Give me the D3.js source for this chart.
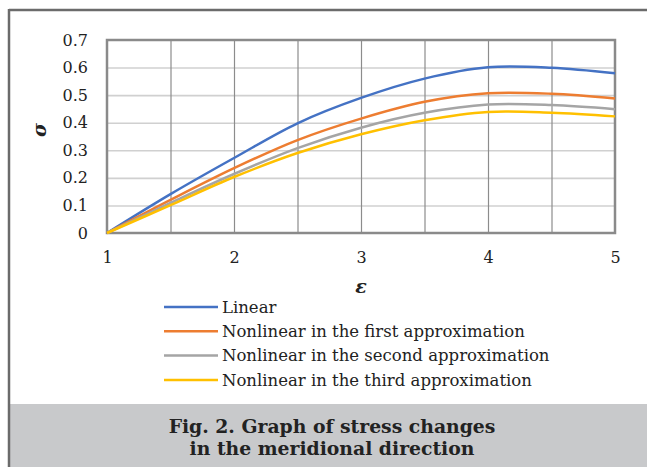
<!DOCTYPE html>
<html>
<head>
<meta charset="utf-8">
<script src="https://cdn.jsdelivr.net/npm/d3@7"></script>
<style>
  body { margin: 0; background: #fff; }
  text { font-family: "DejaVu Serif", serif; fill: #222; }
</style>
</head>
<body>
<div id="container"></div>
<script>
// values
const eps = [1, 1.5, 2, 2.5, 3, 3.5, 4, 4.5, 5];
const linear = [0, 0.141, 0.272, 0.398, 0.49, 0.56, 0.601, 0.599, 0.579];
const firstApprox = [0, 0.12, 0.235, 0.337, 0.415, 0.476, 0.507, 0.505, 0.488];
const secondApprox = [0, 0.109, 0.214, 0.308, 0.382, 0.436, 0.466, 0.464, 0.449];
const thirdApprox = [0, 0.101, 0.203, 0.29, 0.358, 0.409, 0.439, 0.436, 0.423];

const seriesNames = [
  "Linear",
  "Nonlinear in the first approximation",
  "Nonlinear in the second approximation",
  "Nonlinear in the third approximation"
];
const seriesColors = ["#4472c4", "#ed7d31", "#a5a5a5", "#ffc000"];
const xTicks = [1, 2, 3, 4, 5];
const xGrid = [1.5, 2, 2.5, 3, 3.5, 4, 4.5];
const yTicks = [0, 0.1, 0.2, 0.3, 0.4, 0.5, 0.6, 0.7];
const yTickLabels = ["0", "0.1", "0.2", "0.3", "0.4", "0.5", "0.6", "0.7"];
const captionLines = ["Fig. 2. Graph of stress changes", "in the meridional direction"];

const W = 647, H = 467;
const plot = { left: 107, right: 615, top: 40, bottom: 233 };

const svg = d3.select("#container")
  .append("svg")
  .attr("width", W)
  .attr("height", H);

//frame and caption band
svg.append("rect")
  .attr("x", 10).attr("y", 404)
  .attr("width", W - 10).attr("height", H - 404)
  .attr("fill", "#c8c9cb");
svg.append("line")
  .attr("x1", 9).attr("x2", W).attr("y1", 10).attr("y2", 10)
  .attr("stroke", "#6b6b6b").attr("stroke-width", 2.5);
svg.append("line")
  .attr("x1", 9).attr("x2", 9).attr("y1", 9).attr("y2", H)
  .attr("stroke", "#6b6b6b").attr("stroke-width", 2.5);

//scales
const x = d3.scaleLinear().domain([1, 5]).range([plot.left, plot.right]);
const y = d3.scaleLinear().domain([0, 0.7]).range([plot.bottom, plot.top]);

//grid
svg.append("g")
  .attr("transform", `translate(${plot.left},0)`)
  .call(d3.axisLeft(y).tickValues(yTicks.slice(1, -1)).tickSize(-(plot.right - plot.left)).tickFormat(""))
  .call(g => g.select(".domain").remove())
  .call(g => g.selectAll("line").attr("stroke", "#d0d0d0").attr("stroke-width", 1.6));

svg.append("g")
  .attr("transform", `translate(0,${plot.bottom})`)
  .call(d3.axisBottom(x).tickValues(xGrid).tickSize(-(plot.bottom - plot.top)).tickFormat(""))
  .call(g => g.select(".domain").remove())
  .call(g => g.selectAll("line").attr("stroke", "#8c8c8c").attr("stroke-width", 1.2));

//plot border
svg.append("rect")
  .attr("x", plot.left).attr("y", plot.top)
  .attr("width", plot.right - plot.left).attr("height", plot.bottom - plot.top)
  .attr("fill", "none").attr("stroke", "#8a8a8a").attr("stroke-width", 2.5);

//axis labels
const yAxis = svg.append("g")
  .attr("transform", `translate(88,0)`)
  .call(d3.axisLeft(y).tickValues(yTicks).tickSize(0).tickPadding(0)
    .tickFormat((d, i) => yTickLabels[i]));
yAxis.select(".domain").remove();
yAxis.selectAll("text")
  .attr("font-family", "DejaVu Serif, serif")
  .attr("font-size", 16)
  .attr("fill", "#222");

const xAxis = svg.append("g")
  .attr("transform", `translate(0,252)`)
  .call(d3.axisBottom(x).tickValues(xTicks).tickSize(0).tickPadding(0).tickFormat(d3.format("d")));
xAxis.select(".domain").remove();
xAxis.selectAll("text")
  .attr("font-family", "DejaVu Serif, serif")
  .attr("font-size", 16)
  .attr("fill", "#222");

svg.append("text")
  .attr("x", (plot.left + plot.right) / 2).attr("y", 293)
  .attr("text-anchor", "middle")
  .attr("font-size", 19).attr("font-weight", "bold").attr("font-style", "italic")
  .text("ε");

svg.append("text")
  .attr("transform", "translate(46,130) rotate(-90)")
  .attr("text-anchor", "middle")
  .attr("font-size", 19).attr("font-weight", "bold").attr("font-style", "italic")
  .text("σ");

//lines
const allSeries = [linear, firstApprox, secondApprox, thirdApprox];
const line = d3.line()
  .x((d, i) => x(eps[i]))
  .y(d => y(d))
  .curve(d3.curveCatmullRom.alpha(0.5));

svg.selectAll("path.series")
  .data(allSeries)
  .enter()
  .append("path")
  .attr("class", "series")
  .attr("d", line)
  .attr("fill", "none")
  .attr("stroke", (d, i) => seriesColors[i])
  .attr("stroke-width", 2.5);

//legend
const legend = svg.selectAll("g.legend")
  .data(seriesNames)
  .enter()
  .append("g")
  .attr("class", "legend")
  .attr("transform", (d, i) => `translate(164,${307 + i * 24.3})`);

legend.append("line")
  .attr("x1", 0).attr("x2", 54)
  .attr("stroke", (d, i) => seriesColors[i])
  .attr("stroke-width", 2.5);

legend.append("text")
  .attr("x", 58).attr("dy", "0.35em")
  .attr("font-size", 16.5)
  .text(d => d);

//caption
svg.selectAll("text.caption")
  .data(captionLines)
  .enter()
  .append("text")
  .attr("class", "caption")
  .attr("x", 332)
  .attr("y", (d, i) => 433 + i * 22)
  .attr("text-anchor", "middle")
  .attr("font-size", 18.8)
  .attr("font-weight", "bold")
  .text(d => d);
</script>
</body>
</html>
